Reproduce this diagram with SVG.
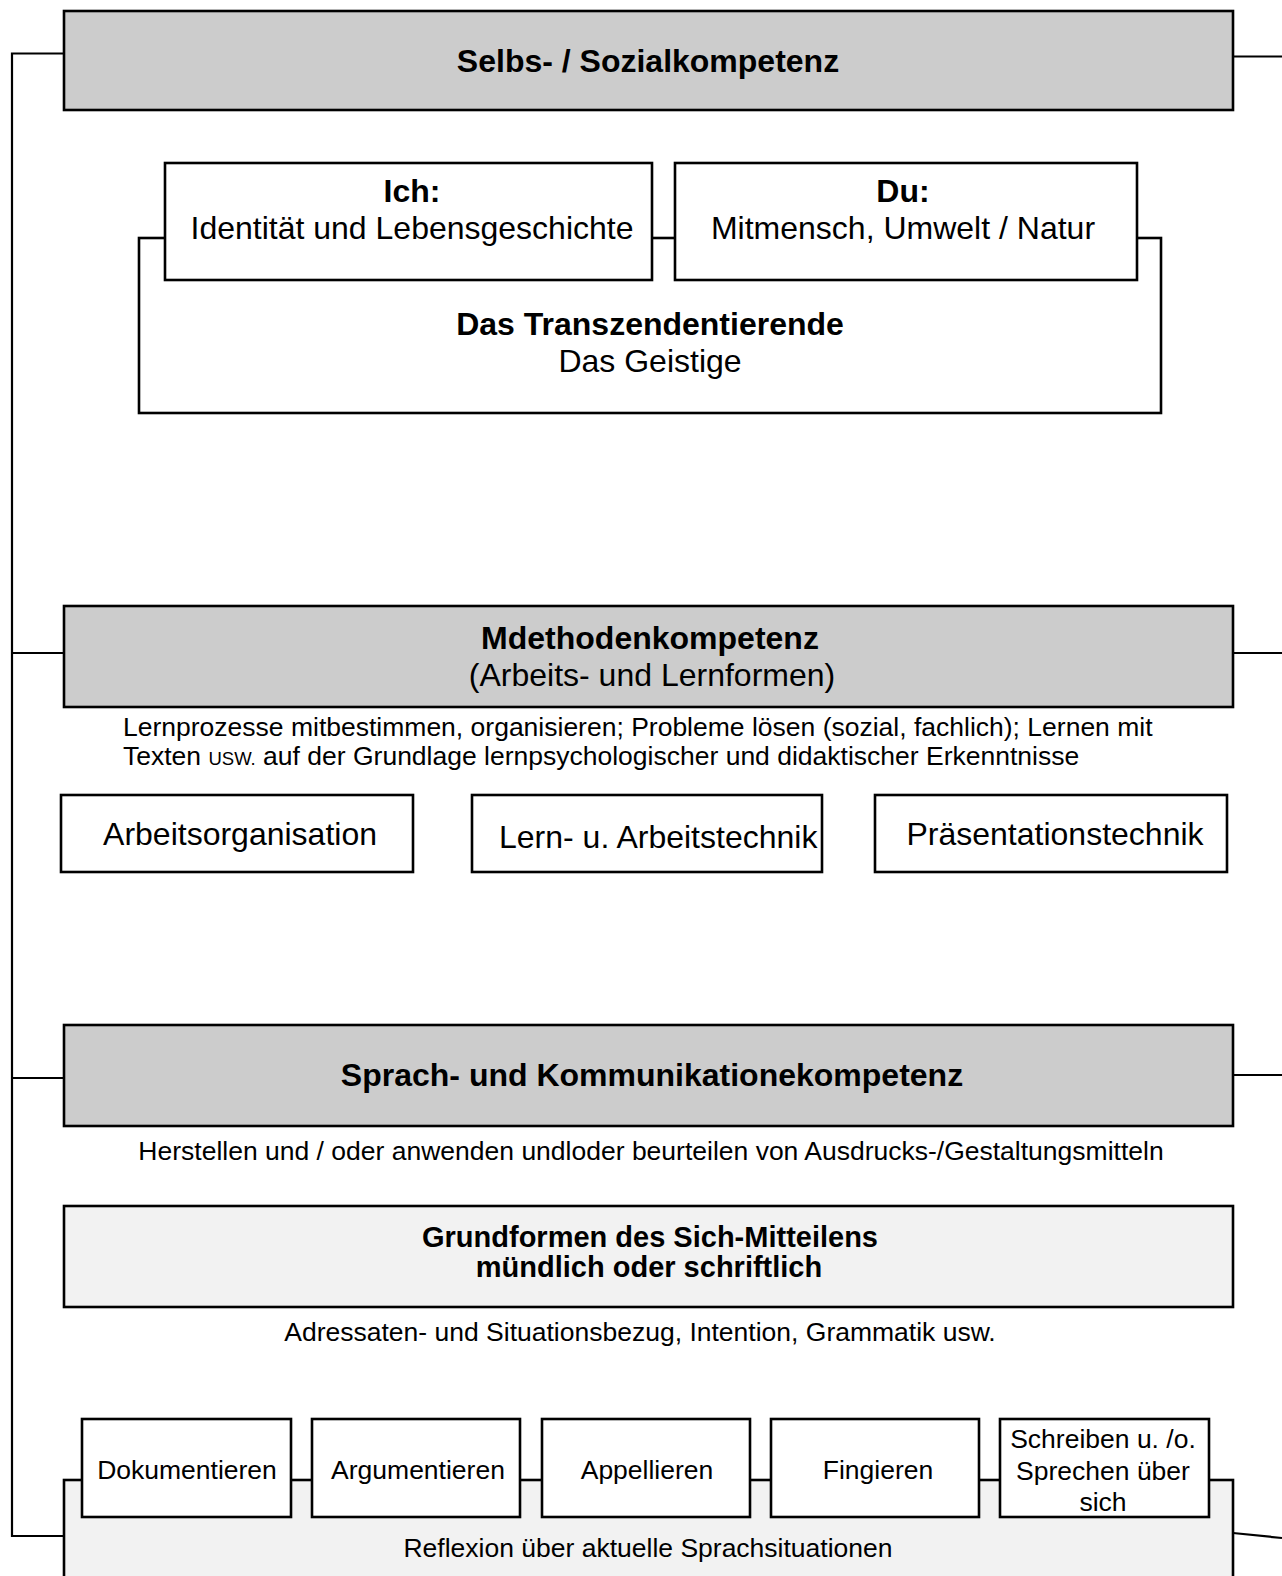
<svg xmlns="http://www.w3.org/2000/svg" width="1282" height="1576" viewBox="0 0 1282 1576">
<style>
  text { font-family: "Liberation Sans", Arial, sans-serif; fill: #000; }
  .b { font-weight: bold; }
  .t32 { font-size: 32px; }
  .t29 { font-size: 29px; }
  .t26 { font-size: 26.5px; }
  .mid { text-anchor: middle; }
  .box { stroke: #000; stroke-width: 2.6; fill: #fff; }
  .gray { fill: #cccccc; }
  .light { fill: #f2f2f2; }
  .conn { stroke: #000; stroke-width: 2.2; fill: none; }
</style>
<rect width="1282" height="1576" fill="#fff"/>

<g id="connectors">
  <path class="conn" d="M64,53.5 H12 V1536 H64"/>
  <path class="conn" d="M12,653 H64"/>
  <path class="conn" d="M12,1078 H64"/>
  <path class="conn" d="M1233,56.5 H1282"/>
  <path class="conn" d="M1233,653 H1282"/>
  <path class="conn" d="M1233,1075 H1282"/>
  <path class="conn" d="M1233,1533 L1282,1538"/>
</g>

<g id="selbs-sozialkompetenz">
  <rect class="box gray" x="64" y="11" width="1169" height="99"/>
  <text class="b t32 mid" x="648" y="72">Selbs- / Sozialkompetenz</text>
</g>

<g id="transzendentierende">
  <rect class="box" x="139" y="238" width="1022" height="175"/>
  <text class="b t32 mid" x="650" y="335">Das Transzendentierende</text>
  <text class="t32 mid" x="650" y="372">Das Geistige</text>
</g>

<g id="ich">
  <rect class="box" x="165" y="163" width="487" height="117"/>
  <text class="b t32 mid" x="412" y="202">Ich:</text>
  <text class="t32 mid" x="412" y="239">Identität und Lebensgeschichte</text>
</g>

<g id="du">
  <rect class="box" x="675" y="163" width="462" height="117"/>
  <text class="b t32 mid" x="903" y="202">Du:</text>
  <text class="t32 mid" x="903" y="239">Mitmensch, Umwelt / Natur</text>
</g>

<g id="methodenkompetenz">
  <rect class="box gray" x="64" y="606" width="1169" height="101"/>
  <text class="b t32 mid" x="650" y="649">Mdethodenkompetenz</text>
  <text class="t32 mid" x="652" y="686">(Arbeits- und Lernformen)</text>
</g>

<g id="methoden-beschreibung">
  <text class="t26" x="123" y="736">Lernprozesse mitbestimmen, organisieren; Probleme lösen (sozial, fachlich); Lernen mit</text>
  <text class="t26" x="123" y="765">Texten <tspan font-size="18.5">USW.</tspan> auf der Grundlage lernpsychologischer und didaktischer Erkenntnisse</text>
</g>

<g id="arbeitsorganisation">
  <rect class="box" x="61" y="795" width="352" height="77"/>
  <text class="t32 mid" x="240" y="845">Arbeitsorganisation</text>
</g>

<g id="lern-arbeitstechnik">
  <rect class="box" x="472" y="795" width="350" height="77"/>
  <text class="t32" x="499" y="848">Lern- u. Arbeitstechnik</text>
</g>

<g id="praesentationstechnik">
  <rect class="box" x="875" y="795" width="352" height="77"/>
  <text class="t32 mid" x="1055" y="845">Präsentationstechnik</text>
</g>

<g id="sprachkompetenz">
  <rect class="box gray" x="64" y="1025" width="1169" height="101"/>
  <text class="b t32 mid" x="652" y="1086">Sprach- und Kommunikationekompetenz</text>
</g>

<g id="sprach-beschreibung">
  <text class="t26 mid" x="651" y="1160">Herstellen und / oder anwenden undloder beurteilen von Ausdrucks-/Gestaltungsmitteln</text>
</g>

<g id="grundformen">
  <rect class="box light" x="64" y="1206" width="1169" height="101"/>
  <text class="b t29 mid" x="650" y="1247">Grundformen des Sich-Mitteilens</text>
  <text class="b t29 mid" x="649" y="1277">mündlich oder schriftlich</text>
</g>

<g id="grundformen-beschreibung">
  <text class="t26 mid" x="640" y="1341">Adressaten- und Situationsbezug, Intention, Grammatik usw.</text>
</g>

<g id="reflexion">
  <rect class="box light" x="64" y="1480" width="1169" height="130"/>
  <text class="t26 mid" x="648" y="1557">Reflexion über aktuelle Sprachsituationen</text>
</g>

<g id="dokumentieren">
  <rect class="box" x="82" y="1419" width="209" height="98"/>
  <text class="t26 mid" x="187" y="1479">Dokumentieren</text>
</g>

<g id="argumentieren">
  <rect class="box" x="312" y="1419" width="208" height="98"/>
  <text class="t26 mid" x="418" y="1479">Argumentieren</text>
</g>

<g id="appellieren">
  <rect class="box" x="542" y="1419" width="208" height="98"/>
  <text class="t26 mid" x="647" y="1479">Appellieren</text>
</g>

<g id="fingieren">
  <rect class="box" x="771" y="1419" width="208" height="98"/>
  <text class="t26 mid" x="878" y="1479">Fingieren</text>
</g>

<g id="schreiben-sprechen">
  <rect class="box" x="1000" y="1419" width="209" height="98"/>
  <text class="t26 mid" x="1103" y="1448">Schreiben u. /o.</text>
  <text class="t26 mid" x="1103" y="1480">Sprechen über</text>
  <text class="t26 mid" x="1103" y="1511">sich</text>
</g>
</svg>
